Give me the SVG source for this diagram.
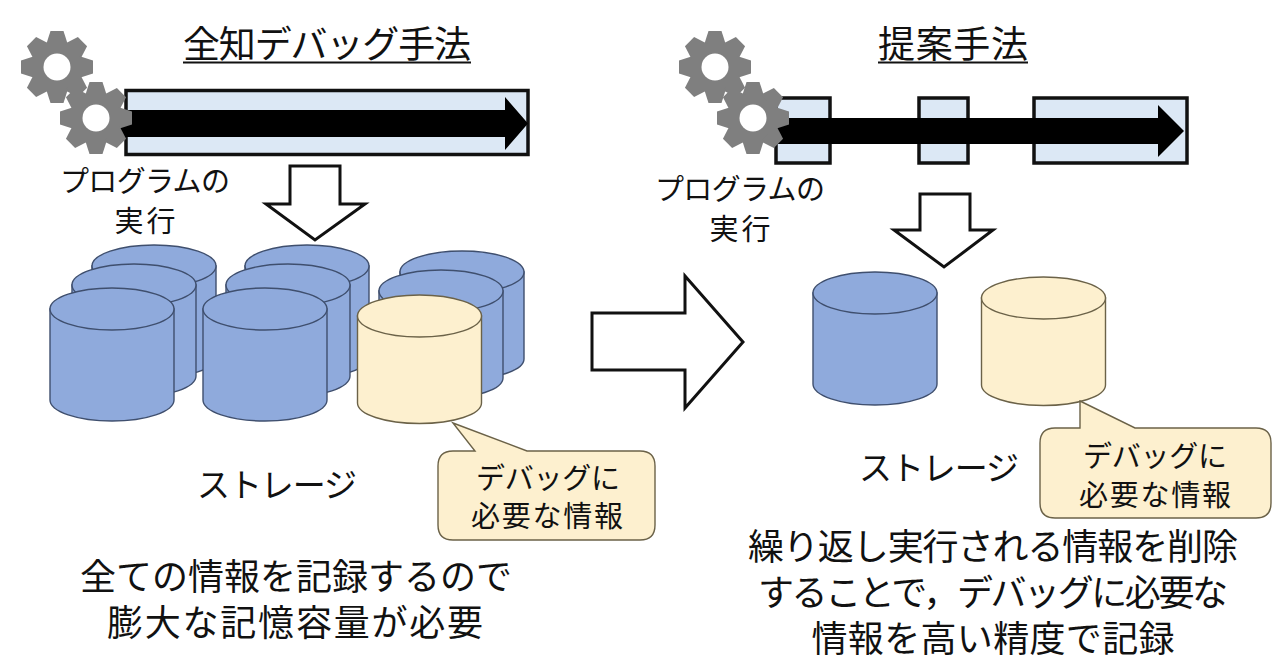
<svg xmlns="http://www.w3.org/2000/svg" width="1280" height="671" viewBox="0 0 1280 671">
<style>
text{font-family:"Liberation Sans","Noto Sans CJK JP",sans-serif;fill:#111;text-anchor:middle}
.t{font-size:36px}.s{font-size:29px}.h{font-size:37px}.g{font-size:33px}.c{font-size:29px}
.box{fill:#dce8f5;stroke:#111;stroke-width:3.5}
.bar{fill:#000}
.hollow{fill:#fff;stroke:#111;stroke-width:3}
.blue{fill:#8faadc;stroke:#3f4f6e;stroke-width:1.4}
.yellow{fill:#fdf0cf;stroke:#6b6248;stroke-width:1.4}
.call{fill:#fdf0cf;stroke:#6b6248;stroke-width:1.4}
</style>
<defs>
<g id="t4"><polygon points="-6.500,-36 6.500,-36 11,-22 -11,-22"/><polygon points="-6.500,-36 6.500,-36 11,-22 -11,-22" transform="rotate(45)"/><polygon points="-6.500,-36 6.500,-36 11,-22 -11,-22" transform="rotate(90)"/><polygon points="-6.500,-36 6.500,-36 11,-22 -11,-22" transform="rotate(135)"/></g>
<g id="gear"><g fill="#7f7f7f"><circle r="25.500"/><use href="#t4"/><use href="#t4" transform="rotate(180)"/></g><circle r="13.500" fill="#fff"/></g>
<g id="cyl"><path d="M0,21V112A62,21 0 0 0 124,112V21Z"/><ellipse cx="62" cy="21" rx="62" ry="21"/></g>
<g id="cyl2"><path d="M0,21V108A62,20.500 0 0 0 124,108V21Z"/><ellipse cx="62" cy="21" rx="62" ry="21"/></g>
</defs>

<g id="title-left"><text class="h" x="327" y="58" textLength="288" lengthAdjust="spacing">全知デバッグ手法</text><line x1="183" y1="62.500" x2="471" y2="62.500" stroke="#111" stroke-width="2"/></g>
<g id="title-right"><text class="h" x="953" y="58" textLength="150" lengthAdjust="spacing">提案手法</text><line x1="878" y1="62.500" x2="1028" y2="62.500" stroke="#111" stroke-width="2"/></g>

<g id="timeline-left"><rect class="box" x="126" y="90.500" width="402" height="64"/></g>
<g id="timeline-right">
<rect class="box" x="776" y="98" width="54" height="65"/>
<rect class="box" x="919" y="98" width="49" height="65"/>
<rect class="box" x="1034" y="98" width="153" height="65"/>
</g>

<g id="connectors">
<polygon class="bar" points="118,110 505,110 505,97 528,123.500 505,150 505,137 118,137"/>
<polygon class="bar" points="770,118 1158,118 1158,105 1184,131 1158,157 1158,144 770,144"/>
<polygon class="hollow" points="290,166 340,166 340,204 365,204 315,240 266,204 290,204"/>
<polygon class="hollow" points="920,194 970,194 970,230 993,230 944,267 894,230 920,230"/>
<polygon class="hollow" points="592,313 685,313 685,276 743,342 685,408 685,370 592,370"/>
</g>

<g id="gears-left"><use href="#gear" x="57" y="67"/><use href="#gear" x="96" y="118"/></g>
<g id="gears-right"><use href="#gear" x="715" y="67"/><use href="#gear" x="753" y="118"/></g>

<g id="label-run-left"><text class="s" x="145" y="192" textLength="170" lengthAdjust="spacing">プログラムの</text><text class="s" x="145" y="232" textLength="61" lengthAdjust="spacing">実行</text></g>
<g id="label-run-right"><text class="s" x="740" y="200" textLength="170" lengthAdjust="spacing">プログラムの</text><text class="s" x="740" y="240" textLength="61" lengthAdjust="spacing">実行</text></g>

<g id="storage-left">
<use href="#cyl" class="blue" x="92" y="245"/><use href="#cyl" class="blue" x="72" y="264"/><use href="#cyl" class="blue" x="50" y="288"/>
<use href="#cyl" class="blue" x="245" y="245"/><use href="#cyl" class="blue" x="226" y="264"/><use href="#cyl" class="blue" x="203" y="288"/>
<use href="#cyl2" class="blue" x="400" y="251"/><use href="#cyl2" class="blue" x="379" y="270"/>
<use href="#cyl2" class="yellow" x="357.500" y="295"/>
</g>
<g id="storage-right">
<use href="#cyl" class="blue" x="813" y="272"/>
<use href="#cyl2" class="yellow" x="981.500" y="277"/>
</g>

<g id="label-storage-left"><text class="g" x="277" y="497" textLength="160" lengthAdjust="spacing">ストレージ</text></g>
<g id="label-storage-right"><text class="g" x="939" y="480" textLength="160" lengthAdjust="spacing">ストレージ</text></g>

<g id="callout-left">
<path class="call" d="M453,423L527,451H640Q655,451 655,466V525Q655,540 640,540H453Q438,540 438,525V466Q438,451 453,451H475Z"/>
<text class="c" x="548" y="489" textLength="144" lengthAdjust="spacing">デバッグに</text>
<text class="c" x="547" y="527" textLength="152" lengthAdjust="spacing">必要な情報</text>
</g>
<g id="callout-right">
<path class="call" d="M1080,401L1135,428H1256Q1271,428 1271,443V503Q1271,518 1256,518H1055Q1040,518 1040,503V443Q1040,428 1055,428H1080Z"/>
<text class="c" x="1155" y="467" textLength="144" lengthAdjust="spacing">デバッグに</text>
<text class="c" x="1155" y="506" textLength="152" lengthAdjust="spacing">必要な情報</text>
</g>

<g id="note-left">
<text class="t" x="296" y="590" textLength="432" lengthAdjust="spacing">全ての情報を記録するので</text>
<text class="t" x="295" y="636" textLength="376" lengthAdjust="spacing">膨大な記憶容量が必要</text>
</g>
<g id="note-right">
<text class="t" x="993" y="560" textLength="490" lengthAdjust="spacing">繰り返し実行される情報を削除</text>
<text class="t" x="993" y="606" textLength="470" lengthAdjust="spacing">することで，デバッグに必要な</text>
<text class="t" x="993" y="652" textLength="363" lengthAdjust="spacing">情報を高い精度で記録</text>
</g>
</svg>
